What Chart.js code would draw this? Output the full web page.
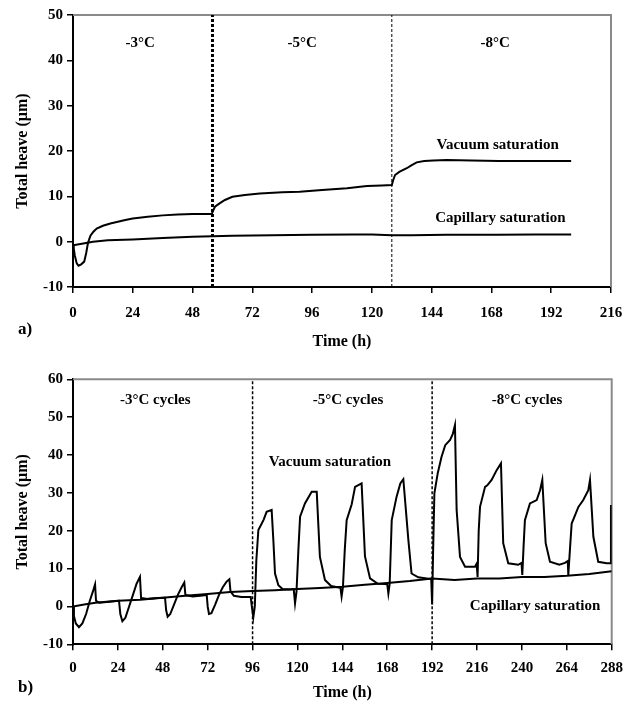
<!DOCTYPE html>
<html><head><meta charset="utf-8">
<script src="https://cdn.jsdelivr.net/npm/chart.js@4/dist/chart.umd.min.js"></script>
<style>
html,body{margin:0;padding:0;background:#fff;}
#wrap{position:relative;width:634px;height:706px;background:#fff;}
.box{position:absolute;left:0;width:634px;height:353px;}
canvas{display:block;}
</style></head><body>
<div id="wrap">
<div class="box" style="top:0"><canvas id="c1" width="634" height="353"></canvas></div>
<div class="box" style="top:353px"><canvas id="c2" width="634" height="353"></canvas></div>
</div>
<script>
// ---------- Panel a) data ----------
const topXTicksStep = 24;
const topVacuumTime  = [0, 0.3, 0.7, 1.5, 2.2, 3.3, 4.5, 5.3, 6.0, 7.0, 8.2, 9.5, 12, 15, 18, 21, 24, 30, 36, 42, 48, 55.7, 56.2, 57, 59, 61, 64, 69, 75, 84, 91, 100, 110, 118, 124, 128, 128.5, 129.3, 131, 134, 136, 138, 141, 144.7, 150, 160, 171, 180, 190, 200];
const topVacuumHeave = [-0.5, -1.5, -3.0, -4.8, -5.3, -5.0, -4.4, -2.5, -0.3, 1.3, 2.2, 2.9, 3.5, 4.0, 4.4, 4.8, 5.1, 5.5, 5.8, 6.0, 6.1, 6.1, 6.8, 7.7, 8.5, 9.2, 9.9, 10.3, 10.6, 10.9, 11.0, 11.4, 11.8, 12.3, 12.4, 12.5, 13.5, 14.7, 15.4, 16.2, 16.9, 17.5, 17.8, 17.9, 18.0, 17.9, 17.8, 17.8, 17.8, 17.8];
const topCapTime  = [0, 3, 8, 14, 24, 36, 48, 56, 64, 80, 96, 112, 120, 128, 136, 150, 170, 185, 200];
const topCapHeave = [-0.8, -0.5, 0.0, 0.3, 0.5, 0.8, 1.1, 1.2, 1.3, 1.4, 1.5, 1.6, 1.6, 1.4, 1.4, 1.5, 1.5, 1.6, 1.6];
const topBoundaries = [56, 128];
const topLabels = [
  {text: '-3°C', h: 27, v: 43.8},
  {text: '-5°C', h: 92, v: 43.8},
  {text: '-8°C', h: 169.5, v: 43.8},
  {text: 'Vacuum saturation', h: 170.5, v: 21.3},
  {text: 'Capillary saturation', h: 171.6, v: 5.2}
];

// ---------- Panel b) data ----------
const botVacuumTime  = [0, 0.5, 1.5, 3.2, 5, 7, 9, 11, 11.8, 12.3, 14, 18, 22, 24.6, 25.3, 26.4, 28, 30, 32, 34, 35.8, 36.4, 40, 45, 49.2, 49.8, 50.6, 52, 54, 56, 58, 59.5, 60.1, 64, 68, 71.5, 72, 72.7, 74, 76, 78, 80, 82, 83.6, 84.2, 86, 90, 95, 95.6, 96.4, 97.2, 98, 99.1, 100.9, 102, 103.5, 106.2, 107.1, 108, 109.8, 112, 116, 118, 118.7, 119.5, 120.5, 121.4, 124, 127.6, 130.3, 132, 134.7, 138, 142, 143, 143.6, 144.3, 145.3, 146.3, 149, 150.8, 154.3, 156.1, 158.8, 163, 167, 168, 168.6, 169.3, 170.4, 173, 175, 176.6, 179.3, 181, 184.6, 190, 191.5, 192, 192.5, 193.2, 195, 197, 199, 201.6, 203, 204.2, 205.1, 206.9, 209.6, 214.9, 215.8, 216.3, 216.9, 217.6, 220.3, 221.5, 223.8, 226.5, 228.8, 230, 232.7, 238, 239.8, 240.2, 240.9, 241.6, 244.3, 247.9, 249.7, 250.9, 252.7, 255, 260, 263, 264.5, 264.8, 265.8, 266.6, 270.2, 272.8, 275.5, 276.4, 278.2, 280.8, 285.3, 287.1, 287.6];
const botVacuumHeave = [0, -2.5, -4.5, -5.5, -4.5, -2.0, 1.5, 4.5, 5.8, 1.5, 1.0, 1.2, 1.4, 1.5, -2.0, -3.9, -3.0, 0.0, 3.0, 6.0, 7.8, 2.2, 2.0, 2.2, 2.3, -1.0, -2.7, -2.0, 0.5, 3.0, 5.0, 6.3, 3.0, 2.6, 2.8, 3.0, 0.0, -2.0, -1.8, 0.5, 3.0, 5.0, 6.5, 7.2, 4.0, 2.8, 2.5, 2.5, 0.0, -2.9, 0.0, 12.0, 20.2, 21.9, 23.0, 25.0, 25.5, 17.6, 8.7, 5.6, 4.6, 4.5, 4.6, 0.8, 4.0, 15.0, 23.7, 27.2, 30.3, 30.3, 13.1, 7.0, 5.4, 5.0, 4.9, 2.6, 5.0, 15.0, 22.8, 27.0, 31.6, 32.5, 13.2, 7.4, 6.0, 5.9, 5.8, 3.4, 6.0, 22.8, 29.0, 32.5, 33.6, 17.5, 8.7, 7.7, 7.3, 7.3, 0.5, 14.0, 29.9, 35.2, 39.5, 42.6, 44.0, 45.5, 47.9, 25.5, 13.1, 10.5, 10.5, 11.3, 7.8, 20.0, 26.3, 31.6, 32.0, 33.4, 36.0, 37.8, 16.7, 11.4, 11.0, 11.5, 8.3, 16.0, 22.8, 27.2, 28.1, 30.7, 33.4, 16.7, 11.8, 11.0, 11.5, 12.0, 8.3, 16.0, 21.9, 26.3, 28.1, 30.7, 33.4, 18.4, 11.8, 11.4, 11.4, 26.8];
const botCapTime  = [0, 6, 12, 24, 36, 48, 60, 72, 84, 96, 108, 120, 132, 144, 156, 168, 180, 192, 204, 216, 228, 240, 252, 264, 276, 288];
const botCapHeave = [0, 0.5, 1.0, 1.5, 1.8, 2.3, 2.8, 3.3, 3.8, 4.1, 4.3, 4.6, 4.9, 5.2, 5.7, 6.2, 6.7, 7.4, 7.0, 7.4, 7.4, 7.8, 7.8, 8.1, 8.6, 9.3];
const botBoundaries = [96, 192];
const botLabels = [
  {text: '-3°C cycles', h: 44, v: 54.5},
  {text: '-5°C cycles', h: 147, v: 54.5},
  {text: '-8°C cycles', h: 242.7, v: 54.5},
  {text: 'Vacuum saturation', h: 137.4, v: 38.2},
  {text: 'Capillary saturation', h: 247, v: 0.2}
];

const FONT = "'Liberation Serif', 'Times New Roman', serif";

function pts(xs, ys) { return xs.map((x, i) => ({x: x, y: ys[i]})); }

const framePlugin = {
  id: 'frame',
  beforeDatasetsDraw(chart) {
    const {ctx, chartArea: a} = chart;
    ctx.save();
    ctx.strokeStyle = '#8a8a8a';
    ctx.lineWidth = 2;
    ctx.beginPath();
    ctx.moveTo(a.left, a.top);
    ctx.lineTo(a.right, a.top);
    ctx.lineTo(a.right, a.bottom);
    ctx.stroke();
    ctx.restore();
  }
};

const textPlugin = {
  id: 'texts',
  afterDraw(chart) {
    const cfg = chart.options.plugins.texts;
    const {ctx} = chart;
    const xs = chart.scales.x, ys = chart.scales.y;
    ctx.save();
    ctx.fillStyle = '#000';
    ctx.textAlign = 'center';
    ctx.textBaseline = 'middle';
    ctx.font = 'bold 15px ' + FONT;
    cfg.labels.forEach(l => {
      ctx.fillText(l.text, xs.getPixelForValue(l.h), ys.getPixelForValue(l.v));
    });
    ctx.font = 'bold 17px ' + FONT;
    ctx.textAlign = 'left';
    ctx.fillText(cfg.panel, 18, cfg.panelY);
    ctx.restore();
  }
};

function makeChart(id, c) {
  const tickFont = {family: FONT, size: 15, weight: 'bold'};
  const titleFont = {family: FONT, size: 16, weight: 'bold'};
  const datasets = [
    {data: pts(c.vacT, c.vacV), borderColor: '#000', borderWidth: 2, showLine: true, pointRadius: 0},
    {data: pts(c.capT, c.capV), borderColor: '#000', borderWidth: 2, showLine: true, pointRadius: 0}
  ];
  c.bounds.forEach((b, i) => {
    datasets.push({data: [{x: b, y: c.yMin}, {x: b, y: c.yMax}], borderColor: '#000',
      borderWidth: c.boundW[i], borderDash: c.boundDash[i], showLine: true, pointRadius: 0});
  });
  return new Chart(document.getElementById(id), {
    type: 'scatter',
    data: {datasets: datasets},
    options: {
      responsive: false, animation: false, devicePixelRatio: 1,
      layout: {padding: {left: 0, top: c.padTop, right: c.padRight, bottom: 0}},
      plugins: {legend: {display: false}, tooltip: {enabled: false},
        texts: {labels: c.labels, panel: c.panel, panelY: c.panelY}},
      scales: {
        x: {type: 'linear', min: c.xMin, max: c.xMax,
          ticks: {stepSize: 24, color: '#000', font: tickFont, padding: c.xTickPad, maxRotation: 0, autoSkip: false},
          grid: {display: true, drawOnChartArea: false, drawTicks: true, tickLength: 6, color: '#000', lineWidth: 1.5},
          border: {display: true, color: '#000', width: 2},
          title: {display: true, text: 'Time (h)', color: '#000', font: titleFont, padding: {top: 0, bottom: c.xTitlePad}},
          afterFit: s => { s.height = c.xAxisH; }
        },
        y: {type: 'linear', min: c.yMin, max: c.yMax,
          ticks: {stepSize: 10, color: '#000', font: tickFont, padding: 4},
          grid: {display: true, drawOnChartArea: false, drawTicks: true, tickLength: 6, color: '#000', lineWidth: 1.5},
          border: {display: true, color: '#000', width: 2},
          title: {display: true, text: 'Total heave (µm)', color: '#000', font: titleFont, padding: {top: 13, bottom: 0}},
          afterFit: s => { s.width = 73; }
        }
      }
    },
    plugins: [framePlugin, textPlugin]
  });
}

makeChart('c1', {
  vacT: topVacuumTime, vacV: topVacuumHeave, capT: topCapTime, capV: topCapHeave,
  bounds: topBoundaries, boundW: [3, 1], boundDash: [[3, 2], [3, 2]],
  labels: topLabels, panel: 'a)', panelY: 330,
  xMin: 0, xMax: 216, yMin: -10, yMax: 50,
  padTop: 15, padRight: 23, xAxisH: 66, xTickPad: 11, xTitlePad: 2
});
makeChart('c2', {
  vacT: botVacuumTime, vacV: botVacuumHeave, capT: botCapTime, capV: botCapHeave,
  bounds: botBoundaries, boundW: [1.5, 1.5], boundDash: [[3, 2], [3, 2]],
  labels: botLabels, panel: 'b)', panelY: 335,
  xMin: 0, xMax: 288, yMin: -10, yMax: 60,
  padTop: 26.3, padRight: 22.3, xAxisH: 61.7, xTickPad: 8.7, xTitlePad: 3.4
});
</script>
</body></html>
